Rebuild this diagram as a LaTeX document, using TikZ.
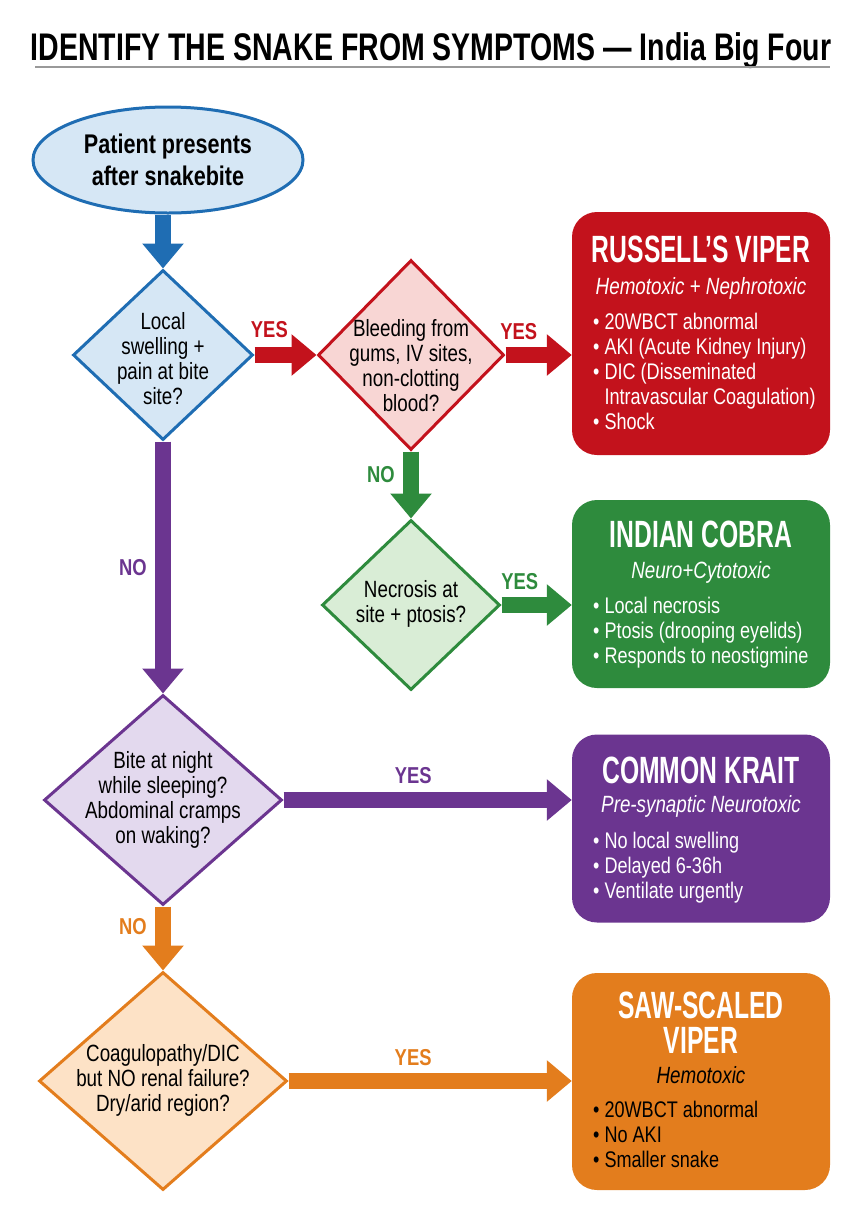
\documentclass[tikz,border=0pt]{standalone}
\usepackage{fontspec}
\setmainfont{Liberation Sans}[FakeStretch=0.8]
\newfontfamily\titlefont{Liberation Sans}[FakeStretch=0.74]
\newfontfamily\condfont{Liberation Sans}[FakeStretch=0.65]
\usetikzlibrary{shapes.geometric,arrows.meta}

\definecolor{cblue}{HTML}{1F6DB3}
\definecolor{cbluefill}{HTML}{D6E7F5}
\definecolor{cred}{HTML}{C3121C}
\definecolor{credfill}{HTML}{F8D6D4}
\definecolor{cgreen}{HTML}{2E8B3D}
\definecolor{cgreenfill}{HTML}{D9EDD6}
\definecolor{cpurple}{HTML}{6B3590}
\definecolor{cpurplefill}{HTML}{E3D9EE}
\definecolor{corange}{HTML}{E37D1D}
\definecolor{corangefill}{HTML}{FDE2C6}

\tikzset{
  flow/.style={line width=16pt, -{Triangle[length=25pt,width=40pt]}},
  decision/.style={diamond, draw, line width=3pt, inner sep=0pt},
  dtext/.style={align=center, font=\fontsize{23.5}{25}\selectfont},
  answer/.style={font=\bfseries\fontsize{23}{25}\selectfont},
  snakebox/.style={rectangle, rounded corners=25pt, minimum width=258pt},
  boxtitle/.style={text=white, align=center, font=\condfont\bfseries\fontsize{38}{35}\selectfont},
  boxsub/.style={anchor=base, font=\itshape\fontsize{23.5}{25}\selectfont},
  boxlist/.style={anchor=north west, inner sep=0pt, align=left, font=\fontsize{22.6}{25}\selectfont},
}

\begin{document}
\begin{tikzpicture}[x=1pt,y=-1pt]
\useasboundingbox (0,0) rectangle (864,1232);

% ============================================
% TITLE
% ============================================
        \node[anchor=base, font=\titlefont\bfseries\fontsize{38.5}{40}\selectfont] (title) at (431,60)
              {IDENTIFY THE SNAKE FROM SYMPTOMS — India Big Four};
        \coordinate (rule left) at (35,67);
        \coordinate (rule right) at (830,67);
        \draw[black!40, line width=1.2pt] (rule left) -- (rule right);

% ============================================
% LEFT COLUMN – START AND QUESTIONS
% ============================================
        \node[ellipse, draw=cblue, fill=cbluefill, line width=3pt, minimum width=270pt, minimum height=106pt,
              align=center, font=\bfseries\fontsize{27}{32}\selectfont] (start) at (168,160)
              {Patient presents\\after snakebite};
        % Local swelling
        \node[decision, draw=cblue, fill=cbluefill, minimum width=180pt, minimum height=170pt] (d1) at (163,355) {};
        \node[dtext] (d1 text) at (163,359) {Local\\swelling +\\pain at bite\\site?};
        % Night bite
        \node[decision, draw=cpurple, fill=cpurplefill, minimum width=238pt, minimum height=210pt] (d4) at (163,800) {};
        \node[dtext] (d4 text) at (163,800) {Bite at night\\while sleeping?\\Abdominal cramps\\on waking?};
        % Coagulopathy
        \node[decision, draw=corange, fill=corangefill, minimum width=248pt, minimum height=218pt] (d5) at (163,1081) {};
        \node[dtext] (d5 text) at (163,1080) {Coagulopathy/DIC\\but NO renal failure?\\Dry/arid region?};

% ============================================
% MIDDLE COLUMN – QUESTIONS
% ============================================
        % Bleeding
        \node[decision, draw=cred, fill=credfill, minimum width=186pt, minimum height=190pt] (d2) at (411,355) {};
        \node[dtext] (d2 text) at (411,366) {Bleeding from\\gums, IV sites,\\non-clotting\\blood?};
        % Necrosis
        \node[decision, draw=cgreen, fill=cgreenfill, minimum width=178pt, minimum height=170pt] (d3) at (411,605) {};
        \node[dtext] (d3 text) at (411,604) {Necrosis at\\site + ptosis?};

% ============================================
% RIGHT COLUMN – SNAKES
% ============================================
        % Russell's viper
        \node[snakebox, fill=cred, minimum height=243pt] (russell) at (701,333.5) {};
        \node[boxtitle] (russell title) at (701,249) {RUSSELL’S VIPER};
        \node[boxsub, text=white] (russell sub) at (701,294) {Hemotoxic + Nephrotoxic};
        \node[boxlist, text=white] (russell list) at (593,313)
              {• 20WBCT abnormal\\• AKI (Acute Kidney Injury)\\• DIC (Disseminated\\\phantom{• }Intravascular Coagulation)\\• Shock};
        % Indian cobra
        \node[snakebox, fill=cgreen, minimum height=188pt] (cobra) at (701,594) {};
        \node[boxtitle] (cobra title) at (701,534) {INDIAN COBRA};
        \node[boxsub, text=white] (cobra sub) at (701,578) {Neuro+Cytotoxic};
        \node[boxlist, text=white] (cobra list) at (593,597)
              {• Local necrosis\\• Ptosis (drooping eyelids)\\• Responds to neostigmine};
        % Common krait
        \node[snakebox, fill=cpurple, minimum height=188pt] (krait) at (701,828.5) {};
        \node[boxtitle] (krait title) at (701,770) {COMMON KRAIT};
        \node[boxsub, text=white] (krait sub) at (701,812) {Pre-synaptic Neurotoxic};
        \node[boxlist, text=white] (krait list) at (593,832)
              {• No local swelling\\• Delayed 6-36h\\• Ventilate urgently};
        % Saw-scaled viper
        \node[snakebox, fill=corange, minimum height=217pt] (saw) at (701,1081.5) {};
        \node[boxtitle] (saw title) at (701,1023) {SAW-SCALED\\VIPER};
        \node[boxsub, text=black] (saw sub) at (701,1083) {Hemotoxic};
        \node[boxlist, text=black] (saw list) at (593,1101)
              {• 20WBCT abnormal\\• No AKI\\• Smaller snake};

% ============================================
% ARROWS
% ============================================
        \draw[flow, cblue] (d1.north |- start.south) -- (d1.north);
        \draw[flow, cred] (d1.east) -- node[answer, text=cred, pos=0.24, yshift=25pt] (yes1) {YES} (d2.west);
        \draw[flow, cred] (d2.east) -- node[answer, text=cred, pos=0.2, yshift=23pt] (yes2) {YES} (d2.east -| russell.west);
        \draw[flow, cgreen] (d2.south) -- node[answer, text=cgreen, pos=0.35, xshift=-30pt] (no2) {NO} (d3.north);
        \draw[flow, cgreen] (d3.east) -- node[answer, text=cgreen, pos=0.26, yshift=23pt] (yes3) {YES} (d3.east -| cobra.west);
        \draw[flow, cpurple] (d1.south) -- node[answer, text=cpurple, pos=0.5, xshift=-30pt] (no1) {NO} (d4.north);
        \draw[flow, cpurple] (d4.east) -- node[answer, text=cpurple, pos=0.45, yshift=24pt] (yes4) {YES} (d4.east -| krait.west);
        \draw[flow, corange] (d4.south) -- node[answer, text=corange, pos=0.32, xshift=-30pt] (no4) {NO} (d5.north);
        \draw[flow, corange] (d5.east) -- node[answer, text=corange, pos=0.44, yshift=23pt] (yes5) {YES} (d5.east -| saw.west);
\end{tikzpicture}
\end{document}
